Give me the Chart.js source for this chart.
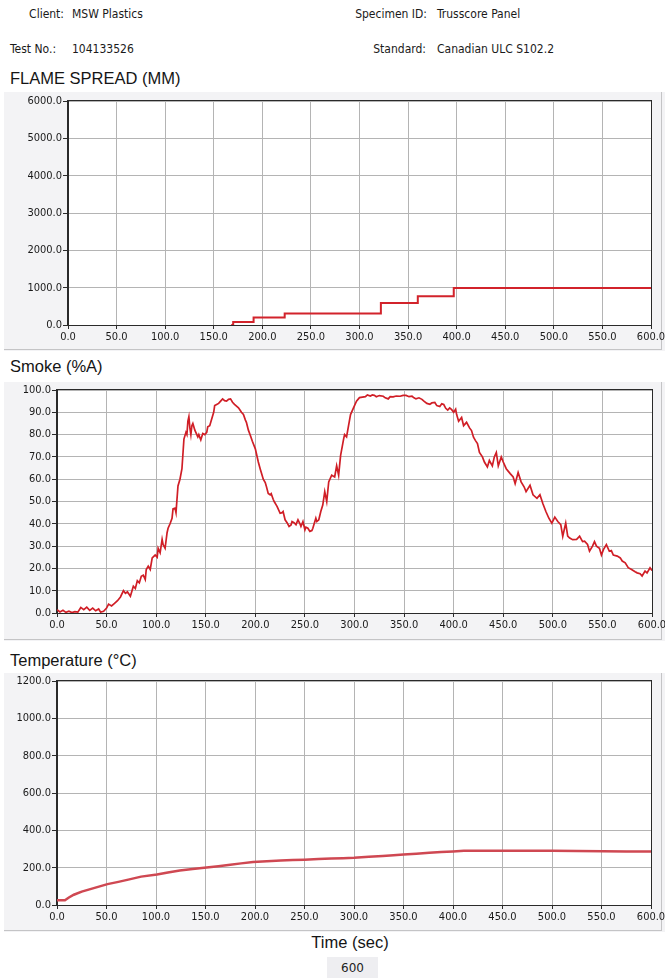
<!DOCTYPE html>
<html><head><meta charset="utf-8">
<script src="https://cdn.jsdelivr.net/npm/chart.js@4.4.0/dist/chart.umd.min.js"></script>
<style>
html,body{margin:0;padding:0;}
body{width:665px;height:978px;background:#fff;position:relative;overflow:hidden;font-family:"DejaVu Sans Condensed","DejaVu Sans",Verdana,sans-serif;}
.t{position:absolute;font-size:12px;color:#1a1a1a;white-space:nowrap;line-height:14px;}
.r{text-align:right;}
.h{position:absolute;font-family:"Liberation Sans",Arial,sans-serif;font-size:16.5px;color:#151515;line-height:18px;white-space:nowrap;}
canvas{position:absolute;}
#pg{position:absolute;left:327px;top:957px;width:51px;height:23px;background:#eeeef1;font-family:"DejaVu Sans",sans-serif;font-size:12px;line-height:23px;text-align:center;color:#222;}
</style></head><body>
<div class="t r" style="left:0;width:64px;top:7px">Client:</div>
<div class="t" style="left:72px;top:7px">MSW Plastics</div>
<div class="t r" style="left:300px;width:127px;top:7px">Specimen ID:</div>
<div class="t" style="left:437px;top:7px">Trusscore Panel</div>
<div class="t" style="left:10px;top:42px">Test No.:</div>
<div class="t" style="left:72px;top:42px">104133526</div>
<div class="t r" style="left:300px;width:126px;top:42px">Standard:</div>
<div class="t" style="left:437px;top:42px">Canadian ULC S102.2</div>
<div class="h" style="left:10px;top:69px">FLAME SPREAD (MM)</div>
<div class="h" style="left:10px;top:357px">Smoke (%A)</div>
<div class="h" style="left:10px;top:651px">Temperature (°C)</div>
<div class="h" style="left:0;width:700px;text-align:center;top:933px">Time (sec)</div>
<div id="pg">600</div>
<canvas id="c1" width="661" height="259" style="left:4px;top:92px"></canvas>
<canvas id="c2" width="661" height="259" style="left:4px;top:382px"></canvas>
<canvas id="c3" width="661" height="259" style="left:4px;top:673px"></canvas>
<script>
// ---- data ----
const timeTicks = [0,50,100,150,200,250,300,350,400,450,500,550,600];
const flameTicks = [0,1000,2000,3000,4000,5000,6000];
const smokeTicks = [0,10,20,30,40,50,60,70,80,90,100];
const tempTicks = [0,200,400,600,800,1000,1200];

const flameTime  = [168, 170, 191, 223, 322, 360, 397, 600];
const flameValue = [0,   80,  200, 310, 590, 770, 990, 990];

const smokeTime = [0,3,6,9,12,15,18,21,24,27,30,33,36,39,42,44,47,50,52,55,58,61,64,67,69,71,74,77,79,81,83,85,87,89,90,92,94,96,99,101,102,104,106,107,109,111,112,114,116,117,119,120,122,124,126,128,130,131,132,133,134,135,136,137,139,140,142,143,145,147,149,151,152,154,156,158,159,161,163,165,167,169,171,173,175,177,179,181,183,184,186,188,190,191,193,195,197,200,203,205,206,208,210,211,213,215,216,218,219,221,222,225,227,228,230,232,234,236,237,239,241,243,245,246,248,250,251,253,255,257,258,261,262,264,266,268,270,272,274,277,280,282,284,286,289,290,292,294,296,299,302,305,308,311,313,316,318,320,322,325,329,331,334,336,339,342,346,349,352,355,358,360,362,365,368,370,373,376,378,381,383,386,388,390,392,394,396,398,400,402,403,405,408,410,413,416,418,420,422,424,426,429,431,434,436,439,441,443,445,448,450,453,457,460,462,465,468,471,473,477,480,484,487,490,493,496,499,502,505,508,510,513,515,517,520,524,527,530,532,535,537,540,542,544,547,549,551,554,557,559,561,565,568,570,573,576,579,583,585,588,590,593,595,598,600];
const smokeValue = [1.5,0.5,1.2,0.3,0.8,0.2,0.6,0.4,2.5,1.5,2.6,1.2,2.2,1.0,1.8,0.4,0.8,2.2,4.0,3.2,4.3,5.5,7.2,10.0,8.8,9.5,7.5,12.0,11.0,14.5,13.5,16.5,17.0,15.0,19.5,21.0,19.5,24.7,26.0,25.0,29.0,27.0,33.0,30.7,29.0,36.0,38.0,40.0,42.5,46.7,47.0,45.0,57.0,60.0,64.7,78.0,81.0,80.0,86.0,88.0,83.0,80.0,84.0,85.0,82.0,81.0,79.0,80.0,77.6,80.5,80.0,81.0,83.5,84.0,87.0,90.0,93.0,93.5,94.0,95.0,96.0,95.2,95.0,95.8,96.0,94.5,93.6,92.8,92.0,91.4,90.0,89.0,86.5,85.5,82.0,79.6,77.0,73.6,67.7,64.5,63.0,60.0,58.5,57.0,53.6,53.0,53.5,51.0,50.0,48.5,47.7,44.7,45.0,45.5,41.8,40.5,38.8,39.5,41.0,40.5,39.6,41.8,40.0,38.8,41.0,37.3,38.5,38.0,36.6,37.0,38.0,42.5,41.0,41.8,45.5,48.4,54.4,50.0,58.8,61.8,61.0,66.0,61.8,70.7,78.0,80.0,79.0,84.0,89.0,92.0,95.0,96.6,96.8,97.0,97.8,97.3,97.8,97.6,97.0,97.5,97.2,96.5,96.0,97.0,96.9,97.3,97.2,97.6,97.6,97.0,97.2,96.5,96.0,96.5,95.8,95.0,94.0,93.6,94.2,94.4,93.0,92.6,93.8,93.5,91.8,91.0,92.0,91.2,90.0,91.4,89.0,86.0,87.7,84.0,85.5,83.0,81.8,78.8,77.3,76.0,72.0,70.0,67.7,65.5,68.4,66.0,70.0,72.0,66.0,70.0,67.7,64.7,62.5,61.0,58.0,63.0,58.8,56.6,54.4,57.3,53.0,51.4,53.0,49.0,45.5,42.5,40.3,43.0,41.0,39.6,34.4,40.3,34.5,33.6,32.9,33.0,34.4,32.0,32.2,30.7,27.7,30.0,32.0,30.0,29.0,26.0,28.4,30.7,27.7,28.0,26.0,25.5,24.7,23.3,22.5,20.3,19.6,18.5,18.0,17.6,16.6,18.8,18.0,20.3,19.0];

const tempTime  = [0, 8, 12, 17, 25, 38, 51, 62, 72, 85, 101, 112, 124, 137, 151, 163, 175, 186, 198, 212, 226, 238, 250, 264, 277, 289, 300, 315, 329, 340, 350, 363, 376, 388, 400, 411, 423, 450, 475, 500, 525, 551, 575, 600];
const tempValue = [25, 25, 40, 55, 72, 92, 112, 124, 136, 152, 163, 174, 185, 193, 201, 208, 216, 223, 230, 235, 239, 241, 243, 246, 249, 251, 253, 258, 263, 267, 271, 275, 280, 284, 287, 290, 291, 291, 291, 291, 289, 288, 287, 286];

// ---- rendering ----
const FONT = {family:'"DejaVu Sans Condensed","DejaVu Sans",Verdana,sans-serif', size:11};
const GRID = '#b4b4b4';
const DARK = '#2a2a2a';

const panelPlugin = {
  id:'panel',
  beforeDraw(chart){
    const {ctx, chartArea:a, width, height} = chart;
    ctx.save();
    ctx.fillStyle = '#f3f3f5';
    ctx.fillRect(0,0,width,height);
    ctx.fillStyle = '#ffffff';
    ctx.fillRect(a.left, a.top, a.right-a.left, a.bottom-a.top);
    ctx.strokeStyle = '#c4c4c6';
    ctx.lineWidth = 1;
    ctx.beginPath();
    ctx.moveTo(0, height-1.5); ctx.lineTo(width-3, height-1.5);
    ctx.moveTo(width-3.5, 0); ctx.lineTo(width-3.5, height-1);
    ctx.stroke();
    ctx.restore();
  },
  afterDatasetsDraw(chart){
    const {ctx, chartArea:a} = chart;
    ctx.save();
    ctx.strokeStyle = DARK;
    ctx.lineWidth = 1;
    ctx.strokeRect(Math.round(a.left)-0.5, Math.round(a.top)-0.5, Math.round(a.right-a.left)+1, Math.round(a.bottom-a.top)+1);
    ctx.restore();
  }
};

function makeChart(id, times, values, yTicks, color, width, stepped, yW, xH, pad){
  const pts = times.map((t,i)=>({x:t, y:values[i]}));
  return new Chart(document.getElementById(id), {
    type:'line',
    data:{datasets:[{data:pts, borderColor:color, borderWidth:width, pointRadius:0, tension:0, stepped:stepped, fill:false}]},
    options:{
      responsive:false, animation:false, devicePixelRatio:1,
      layout:{padding:pad},
      plugins:{legend:{display:false}, tooltip:{enabled:false}},
      scales:{
        x:{type:'linear', min:timeTicks[0], max:timeTicks[timeTicks.length-1],
           afterBuildTicks(s){ s.ticks = timeTicks.map(v=>({value:v})); },
           afterFit(s){ s.height = xH; s.paddingLeft = 0; s.paddingRight = 0; },
           grid:{color:GRID, lineWidth:1, drawTicks:true, tickLength:4, tickColor:DARK},
           border:{display:true, color:DARK, width:1},
           ticks:{font:FONT, color:'#1a1a1a', padding:2, maxRotation:0, autoSkip:false, callback:v=>Number(v).toFixed(1)}},
        y:{type:'linear', min:yTicks[0], max:yTicks[yTicks.length-1],
           afterBuildTicks(s){ s.ticks = yTicks.map(v=>({value:v})); },
           afterFit(s){ s.width = yW; s.paddingTop = 0; s.paddingBottom = 0; },
           grid:{color:GRID, lineWidth:1, drawTicks:true, tickLength:5, tickColor:DARK},
           border:{display:true, color:DARK, width:1},
           ticks:{font:FONT, color:'#1a1a1a', padding:1, autoSkip:false, callback:v=>Number(v).toFixed(1)}}
      }
    },
    plugins:[panelPlugin]
  });
}

makeChart('c1', flameTime, flameValue, flameTicks, '#d2232b', 2, 'before', 64, 26, {top:9, right:14, left:0, bottom:0});
makeChart('c2', smokeTime, smokeValue, smokeTicks, '#d01e26', 1.7, false, 53, 28, {top:8, right:13, left:0, bottom:0});
makeChart('c3', tempTime, tempValue, tempTicks, '#cf4852', 2.5, false, 53, 27, {top:8, right:14, left:0, bottom:0});
</script>
</body></html>
